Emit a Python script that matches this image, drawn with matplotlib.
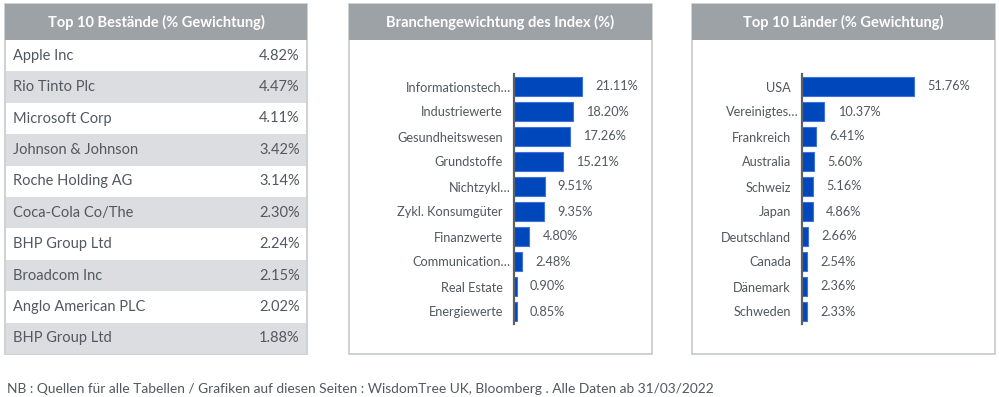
import matplotlib
matplotlib.use("Agg")
import matplotlib.pyplot as plt
from matplotlib.patches import Rectangle
from matplotlib.transforms import ScaledTranslation

plt.rcParams['font.family'] = ['Lato', 'DejaVu Sans']

# ---------------- data ----------------
holdings = ["Apple Inc", "Rio Tinto Plc", "Microsoft Corp", "Johnson & Johnson",
            "Roche Holding AG", "Coca-Cola Co/The", "BHP Group Ltd", "Broadcom Inc",
            "Anglo American PLC", "BHP Group Ltd"]
holding_weights = [4.82, 4.47, 4.11, 3.42, 3.14, 2.30, 2.24, 2.15, 2.02, 1.88]

sectors = ["Informationstech…", "Industriewerte", "Gesundheitswesen", "Grundstoffe",
           "Nichtzykl…", "Zykl. Konsumgüter", "Finanzwerte", "Communication…",
           "Real Estate", "Energiewerte"]
sector_weights = [21.11, 18.20, 17.26, 15.21, 9.51, 9.35, 4.80, 2.48, 0.90, 0.85]

countries = ["USA", "Vereinigtes…", "Frankreich", "Australia", "Schweiz", "Japan",
             "Deutschland", "Canada", "Dänemark", "Schweden"]
country_weights = [51.76, 10.37, 6.41, 5.60, 5.16, 4.86, 2.66, 2.54, 2.36, 2.33]

titles = ["Top 10 Bestände (% Gewichtung)", "Branchengewichtung des Index (%)",
          "Top 10 Länder (% Gewichtung)"]
footnote = ("NB : Quellen für alle Tabellen / Grafiken auf diesen Seiten : "
            "WisdomTree UK, Bloomberg . Alle Daten ab 31/03/2022")

# ---------------- style ----------------
W, H = 999, 397
HEADER = "#9da2a7"
ROWGRAY = "#dcdde0"
BORDER = "#c6c9cc"
TEXT = "#52585f"
BAR = "#0047bb"
BAREDGE = "#3d72db"
AXLINE = "#5c6067"

fig = plt.figure(figsize=(W / 100, H / 100), dpi=100)
fig.patch.set_facecolor("white")


def box(x0, y0, x1, y1):
    """pixel box (top-left origin) -> figure fraction rect"""
    return [x0 / W, 1 - y1 / H, (x1 - x0) / W, (y1 - y0) / H]


def panel_frame(x0, x1, title, y0=4, y1=354, hdr=40):
    ax = fig.add_axes(box(x0, y0, x1, y1))
    ax.set_xlim(0, 1)
    ax.set_ylim(0, 1)
    ax.axis("off")
    ax.add_patch(Rectangle((0, 0), 1, 1, facecolor="white", edgecolor=BORDER,
                           lw=1.2, transform=ax.transAxes, clip_on=False))
    hfrac = (hdr - y0) / (y1 - y0)
    ax.add_patch(Rectangle((0, 1 - hfrac), 1, hfrac, facecolor=HEADER,
                           edgecolor="none", transform=ax.transAxes))
    ax.text(0.5, 1 - hfrac / 2, title, ha="center", va="center", color="white",
            fontsize=10.5, fontweight="bold", transform=ax.transAxes)
    return ax


# ---------------- panel 1: table ----------------
panel_frame(5, 307, titles[0])
tax = fig.add_axes(box(5, 40, 307, 354))
tax.set_xlim(0, 1)
tax.set_ylim(len(holdings), 0)
tax.axis("off")
for i, (name, w) in enumerate(zip(holdings, holding_weights)):
    if i % 2 == 1:
        tax.add_patch(Rectangle((0.004, i), 0.992, 1, facecolor=ROWGRAY, edgecolor="none"))
    tax.text(0.027, i + 0.5, name, ha="left", va="center", color=TEXT, fontsize=10.5)
    tax.text(0.976, i + 0.5, f"{w:.2f}%", ha="right", va="center", color=TEXT, fontsize=10.5)


# ---------------- bar panels ----------------
def bar_panel(x0, x1, title, axis_x, px_per_unit, labels, values):
    panel_frame(x0, x1, title)
    right = x1 - 8
    ax = fig.add_axes(box(axis_x, 74, right, 324))
    ax.set_xlim(0, (right - axis_x) / px_per_unit)
    ax.set_ylim(len(labels) - 0.5, -0.5)
    pos = list(range(len(labels)))
    ax.barh(pos, values, height=0.76, color=BAR, edgecolor=BAREDGE, lw=0.8)
    for p, v in zip(pos, values):
        ax.annotate(f"{v:.2f}%", (v, p), xytext=(9.5, 0), textcoords="offset points",
                    ha="left", va="center", color=TEXT, fontsize=9.2)
    ax.set_yticks(pos)
    ax.set_yticklabels(labels, color=TEXT, fontsize=9.2)
    ax.tick_params(axis="y", length=0, pad=8)
    # truncated labels overflow towards the axis line
    for lab in ax.get_yticklabels():
        if lab.get_text().endswith("…"):
            lab.set_transform(lab.get_transform() +
                              ScaledTranslation(8 / 100, 0, fig.dpi_scale_trans))
    ax.set_xticks([])
    for s in ["top", "right", "bottom"]:
        ax.spines[s].set_visible(False)
    ax.spines["left"].set_color(AXLINE)
    ax.spines["left"].set_linewidth(1.6)
    ax.patch.set_alpha(0)


bar_panel(349, 652, titles[1], 514, 3.22, sectors, sector_weights)
bar_panel(692, 995, titles[2], 802, 2.164, countries, country_weights)

fig.text(7 / W, 1 - 389 / H, footnote, ha="left", va="center", color=TEXT, fontsize=9.9)

fig.savefig("out.png", dpi=100, facecolor="white")
